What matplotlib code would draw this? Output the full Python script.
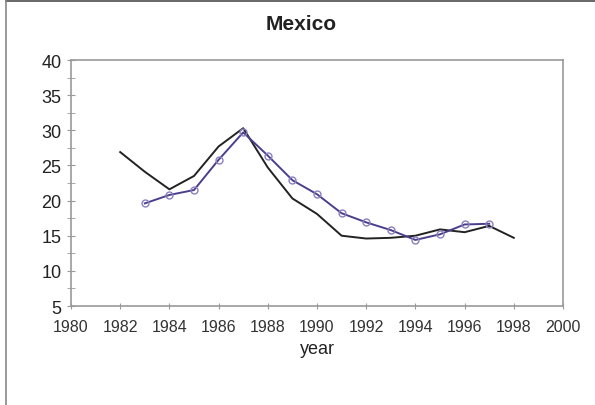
import matplotlib
matplotlib.use("Agg")
import matplotlib.pyplot as plt
from matplotlib.ticker import MultipleLocator
from matplotlib.lines import Line2D

plt.rcParams['font.family'] = ['Liberation Sans', 'DejaVu Sans']

years_black = [1982, 1983, 1984, 1985, 1986, 1987, 1988, 1989, 1990, 1991,
               1992, 1993, 1994, 1995, 1996, 1997, 1998]
values_black = [26.9, 24.1, 21.6, 23.5, 27.7, 30.3, 24.7, 20.3, 18.1, 15.0,
                14.6, 14.7, 15.0, 15.9, 15.5, 16.4, 14.7]

years_purple = [1983, 1984, 1985, 1986, 1987, 1988, 1989, 1990, 1991, 1992,
                1993, 1994, 1995, 1996, 1997]
values_purple = [19.6, 20.8, 21.5, 25.8, 29.7, 26.4, 22.9, 20.9, 18.2, 16.9,
                 15.8, 14.4, 15.2, 16.6, 16.7]

x_ticks = list(range(1980, 2001, 2))
y_ticks = list(range(5, 41, 5))

W, H = 595, 406
fig = plt.figure(figsize=(W / 100, H / 100), dpi=100)
fig.patch.set_facecolor('white')
# partial frame of the original picture (top and left edges)
fig.lines.append(Line2D([6 / W, 1.0], [1 - 1.5 / H, 1 - 1.5 / H], transform=fig.transFigure,
                        color='#666666', linewidth=1.4))
fig.lines.append(Line2D([6 / W, 6 / W], [0.0, 1 - 1.5 / H], transform=fig.transFigure,
                        color='#888888', linewidth=1.2))

ax = fig.add_axes([71 / W, 1 - 307 / H, (563 - 71) / W, (307 - 61) / H])
ax.plot(years_black, values_black, color='#222222', linewidth=1.4, zorder=3)
ax.plot(years_purple, values_purple, color='#4a3f8c', linewidth=1.4,
        marker='o', markersize=5, markerfacecolor='none',
        markeredgecolor='#8a80c0', markeredgewidth=1.0, zorder=4)

ax.set_xlim(1980, 2000)
ax.set_ylim(5, 40)
ax.set_xticks(x_ticks)
ax.set_xticklabels([str(t) for t in x_ticks], fontsize=11.5, color='#333333')
ax.set_yticks(y_ticks)
ax.set_yticklabels([str(t) for t in y_ticks], fontsize=13, color='#222222')
ax.yaxis.set_minor_locator(MultipleLocator(2.5))
ax.tick_params(axis='both', which='both', color='#999999', direction='inout')
ax.tick_params(axis='x', which='major', length=5, pad=7)
ax.tick_params(axis='y', which='both', length=6, pad=4)
for s in ax.spines.values():
    s.set_color('#999999')
    s.set_linewidth(1.2)

ax.set_xlabel('year', fontsize=13, color='#222222', labelpad=4)
fig.text(301 / W, 1 - 25 / H, 'Mexico', fontsize=15, fontweight='bold', color='#222222',
         ha='center', va='center')

fig.savefig('out.png', dpi=100)
